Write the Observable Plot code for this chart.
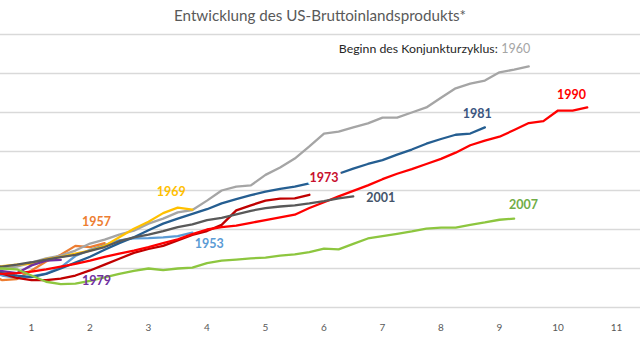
<!DOCTYPE html>
<html>
<head>
<meta charset="utf-8">
<script src="https://cdn.jsdelivr.net/npm/d3@7"></script>
<script src="https://cdn.jsdelivr.net/npm/@observablehq/plot@0.6"></script>
<style>
  html, body { margin: 0; padding: 0; background: #fff; }
  #title { height: 28px; line-height: 30px; text-align: center; font-family: Lato, "Open Sans", sans-serif; font-size: 15.2px; color: #595959; width: 640px; }
</style>
</head>
<body>
<div id="title">Entwicklung des US-Bruttoinlandsprodukts*</div>
<div id="chart"></div>
<script>
// Quarterly index values (start of cycle = 100), x step = 0.25 years starting at 0
const cycles = ["1953", "1957", "1960", "1969", "1973", "1979", "1981", "1990", "2001", "2007"];
const v1953 = [100, 99.5, 98.2, 97.6, 98.0, 98.7, 100.3, 103.2, 104.8, 106.0, 107.2, 107.7, 107.8, 108.0, 108.3, 109.2];
const v1957 = [100, 98.8, 97.0, 97.3, 99.5, 101.8, 103.5, 105.8, 105.5, 106.5];
const v1960 = [100, 100, 100, 100.5, 101.5, 102.6, 103.3, 104.6, 106.4, 107.4, 108.7, 109.7, 111.5, 112.8, 114.4, 115.0, 117.4, 120.0, 121.0, 121.3, 124.0, 125.9, 128.2, 131.3, 134.6, 135.1, 136.2, 137.2, 138.7, 138.7, 140.0, 141.3, 143.8, 146.2, 147.4, 148.2, 150.3, 151.0, 151.8];
const v1969 = [100, 100.3, 100.6, 101.0, 101.2, 102.4, 103.0, 103.8, 104.6, 105.8, 108.0, 110.2, 112.0, 114.2, 115.6, 115.1];
const v1973 = [100, 99.5, 98.7, 97.6, 97.0, 97.0, 97.4, 98.2, 99.5, 101.0, 102.5, 104.0, 105.0, 105.8, 107.2, 108.6, 109.6, 111.2, 114.9, 116.2, 117.4, 117.9, 118.0, 118.9];
const v1979 = [100, 99.8, 99.3, 98.8, 100.8, 102.0, 102.2];
const v1981 = [100, 99.6, 98.8, 98.2, 97.8, 98.6, 100.0, 101.5, 103.0, 104.8, 106.5, 108.0, 109.8, 111.5, 112.8, 114.0, 115.2, 116.7, 117.8, 118.8, 119.7, 120.4, 121.0, 121.8, 123.0, 124.3, 125.6, 126.8, 127.8, 129.2, 130.5, 132.0, 133.2, 134.3, 134.6, 136.2];
const v1990 = [100, 99.2, 98.6, 98.8, 99.2, 99.8, 100.5, 101.2, 102.0, 103.0, 103.8, 104.6, 105.5, 106.5, 107.5, 108.8, 110.0, 110.6, 111.0, 111.7, 112.4, 113.1, 113.8, 115.5, 117.0, 118.5, 119.9, 121.3, 122.9, 124.3, 125.5, 126.8, 128.1, 129.7, 131.6, 132.8, 133.8, 135.5, 137.3, 137.8, 140.5, 140.5, 141.3];
const v2001 = [100, 100.2, 100.5, 101.0, 101.6, 102.3, 102.9, 103.5, 104.5, 105.5, 107.0, 108.0, 108.7, 109.6, 110.6, 111.3, 112.4, 113.0, 113.9, 114.8, 115.5, 115.9, 116.2, 116.7, 117.3, 118.0, 118.5];
const v2007 = [100, 100, 100.0, 99.8, 98.2, 96.6, 96.0, 96.1, 96.8, 97.7, 98.6, 99.4, 100.0, 99.6, 100.0, 100.2, 101.4, 102.0, 102.3, 102.6, 102.8, 103.3, 103.6, 104.2, 105.1, 104.9, 106.3, 107.7, 108.3, 108.9, 109.5, 110.2, 110.5, 110.5, 111.2, 111.8, 112.5, 112.8];
const values = [v1953, v1957, v1960, v1969, v1973, v1979, v1981, v1990, v2001, v2007];
const lineColors = ["#5B9BD5", "#ED7D31", "#A5A5A5", "#FFC000", "#C00000", "#7030A0", "#255E91", "#FF0000", "#595959", "#8DC63F"];
const labelColors = ["#5B9BD5", "#ED7D31", "#A5A5A5", "#FFC000", "#C8102E", "#7030A0", "#3B5580", "#FF0000", "#44546A", "#70AD47"];
const xTicks = [1, 2, 3, 4, 5, 6, 7, 8, 9, 10, 11];
const yGrid = [90, 100, 110, 120, 130, 140, 150, 160];

const rows = [];
cycles.forEach((c, i) => values[i].forEach((v, k) => rows.push({cycle: c, t: k * 0.25, v})));

// label anchor points (years, index)
const labelPos = {
  "1953": [4.04, 106.2], "1957": [2.11, 111.8], "1969": [3.39, 119.7], "1973": [6.0, 123.3],
  "1979": [2.11, 96.9], "1981": [8.62, 139.7], "1990": [10.23, 144.6], "2001": [6.97, 118.2], "2007": [9.41, 116.2]
};
const labels = cycles.filter(c => labelPos[c]).map(c => ({cycle: c, x: labelPos[c][0], y: labelPos[c][1], color: labelColors[cycles.indexOf(c)], halo: c === "1973"}));

const chart = Plot.plot({
  width: 640,
  height: 332,
  marginTop: 6,
  marginBottom: 53,
  marginLeft: 0,
  marginRight: 0,
  style: {fontFamily: "Lato, 'Open Sans', sans-serif", background: "#fff"},
  x: {domain: [27.5 / 58.5, 667.5 / 58.5], label: null, axis: null},
  y: {domain: [90, 160], label: null, axis: null},
  color: {domain: cycles, range: lineColors},
  marks: [
    Plot.ruleY(yGrid, {stroke: "#D9D9D9", strokeWidth: 1.3}),
    Plot.axisX(xTicks, {tickSize: 0, tickPadding: 16, fontSize: 10, fill: "#595959", label: null}),
    Plot.line(rows, {x: "t", y: "v", z: "cycle", stroke: "cycle", strokeWidth: 2.3, clip: true}),
    Plot.text(labels.filter(d => d.halo), {x: "x", y: "y", text: "cycle", fill: "color", fontSize: 12.5, fontWeight: "bold", stroke: "white", strokeWidth: 6, lineAnchor: "middle"}),
    Plot.text(labels.filter(d => !d.halo), {x: "x", y: "y", text: "cycle", fill: "color", fontSize: 12.5, fontWeight: "bold", lineAnchor: "middle"}),
    Plot.text(["Beginn des Konjunkturzyklus:"], {x: 8.97, y: 156.2, text: d => d, textAnchor: "end", fill: "#262626", fontSize: 12.3, lineAnchor: "middle"}),
    Plot.text(["1960"], {x: 9.03, y: 156.2, text: d => d, textAnchor: "start", fill: "#A5A5A5", fontSize: 12.5, lineAnchor: "middle"})
  ]
});
document.getElementById("chart").appendChild(chart);
</script>
</body>
</html>
